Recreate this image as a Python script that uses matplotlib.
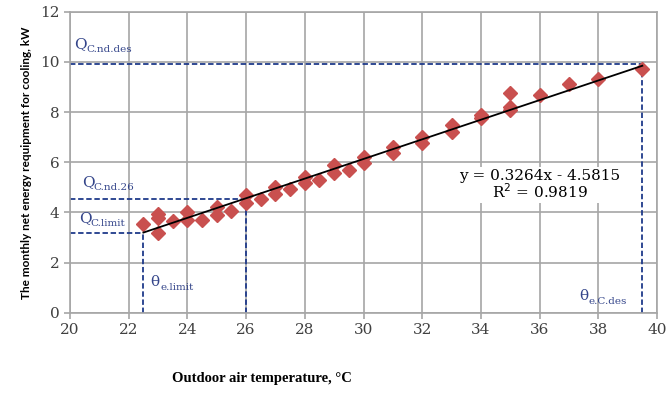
import matplotlib
matplotlib.use('Agg')
import matplotlib.pyplot as plt

# measured points (outdoor temperature, cooling need)
temp = [22.5, 23, 23, 23, 23.5, 24, 24, 24.5, 25, 25, 25.5, 26, 26, 26.5,
        27, 27, 27.5, 28, 28, 28.5, 29, 29, 29.5, 30, 30, 31, 31, 32, 32,
        33, 33, 34, 34, 35, 35, 35, 36, 37, 38, 39.5]
q_cool = [3.53, 3.93, 3.77, 3.2, 3.68, 4.0, 3.7, 3.7, 4.23, 3.9, 4.06, 4.7, 4.37, 4.53,
          5.0, 4.72, 4.93, 5.43, 5.17, 5.3, 5.9, 5.57, 5.7, 6.23, 5.96, 6.63, 6.36, 7.02, 6.76,
          7.49, 7.22, 7.89, 7.75, 8.75, 8.22, 8.1, 8.68, 9.11, 9.32, 9.72]

# trend line as drawn in the original
trend_x = [22.5, 39.5]
trend_y = [3.2, 9.85]

# reference levels
theta_limit, q_limit = 22.5, 3.2
theta_26, q_26 = 26, 4.53
theta_des, q_des = 39.5, 9.9

navy = '#1f3a8a'
lab_col = '#34458a'
grid_col = '#a6a6a6'

fig = plt.figure(figsize=(6.67, 3.94), dpi=100)
ax = fig.add_axes([0.105, 0.206, 0.88, 0.764])

ax.set_xlim(20, 40)
ax.set_ylim(0, 12)
ax.set_xticks(range(20, 41, 2))
ax.set_yticks(range(0, 13, 2))
ax.grid(True, color=grid_col, linewidth=1.2)
ax.set_axisbelow(True)
for s in ax.spines.values():
    s.set_color(grid_col)
    s.set_linewidth(1.2)
ax.tick_params(colors=grid_col, length=4, width=1.2, labelcolor='#404040',
               labelsize=11)
for t in ax.get_xticklabels() + ax.get_yticklabels():
    t.set_family('DejaVu Serif')

dash = dict(color=navy, linewidth=1.3, linestyle=(0, (3, 1.5)), zorder=2)
ax.plot([20, theta_des], [q_des, q_des], **dash)
ax.plot([theta_des, theta_des], [0, q_des], **dash)
ax.plot([20, theta_26], [q_26, q_26], **dash)
ax.plot([theta_26, theta_26], [0, q_26], **dash)
ax.plot([20, theta_limit], [q_limit, q_limit], **dash)
ax.plot([theta_limit, theta_limit], [0, q_limit], **dash)

ax.plot(temp, q_cool, linestyle='none', marker='D', markersize=7,
        color='#c9504f', zorder=3)
ax.plot(trend_x, trend_y, color='black', linewidth=1.3, zorder=4)


def sub_label(x, y, main, sub, shift):
    ax.annotate(main, (x, y), color=lab_col, fontsize=11,
                family='DejaVu Serif', zorder=5)
    ax.annotate(sub, (x, y), xytext=(shift, -2.5), textcoords='offset points',
                color=lab_col, fontsize=7.5, family='DejaVu Serif', zorder=5)


sub_label(20.15, 10.55, 'Q', 'C.nd.des', 8.5)
sub_label(20.4, 5.05, 'Q', 'C.nd.26', 8.5)
sub_label(20.3, 3.6, 'Q', 'C.limit', 8.5)
sub_label(22.75, 1.05, '\u03b8', 'e.limit', 6.8)
sub_label(37.35, 0.5, '\u03b8', 'e.C.des', 6.8)

ax.text(36.0, 5.1, 'y = 0.3264x - 4.5815\nR$^2$ = 0.9819', ha='center',
        va='center', fontsize=11, family='DejaVu Serif', linespacing=1.0,
        bbox=dict(facecolor='white', edgecolor='none', pad=1), zorder=5)

ax.set_ylabel('The monthly net energy requipment for cooling, kW',
              fontsize=8.5, fontweight='bold', family='Lato', labelpad=6)
fig.text(0.393, 0.04, 'Outdoor air temperature, \u00b0C', ha='center',
         va='center', fontsize=10.5, fontweight='bold', family='Liberation Serif')

fig.savefig('out.png', dpi=100)
